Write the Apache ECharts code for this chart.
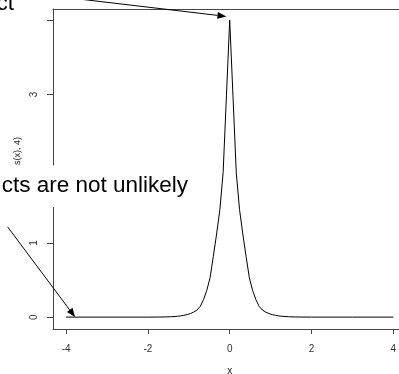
<!DOCTYPE html>
<html>
<head>
<meta charset="utf-8">
<script src="https://cdn.jsdelivr.net/npm/echarts@6/dist/echarts.min.js"></script>
<style>html,body{margin:0;padding:0;background:#fff;overflow:hidden;}#c{width:399px;height:374px;}</style>
</head>
<body>
<div id="c"></div>
<script>
var xValues = [-4, -3, -2, -1.6, -1.44, -1.28, -1.2, -1.12, -1.04, -0.96, -0.88, -0.8, -0.72, -0.64, -0.56, -0.48, -0.4, -0.32, -0.24, -0.16, -0.08,
  0, 0.08, 0.16, 0.24, 0.32, 0.4, 0.48, 0.56, 0.64, 0.72, 0.8, 0.88, 0.96, 1.04, 1.12, 1.2, 1.28, 1.44, 1.6, 2, 3, 4];
var yValues = [0, 0, 0, 0.002, 0.005, 0.011, 0.017, 0.024, 0.034, 0.048, 0.068, 0.095, 0.145, 0.235, 0.36, 0.53, 0.82, 1.12, 1.45, 1.95, 2.98,
  4.0, 2.98, 1.95, 1.45, 1.12, 0.82, 0.53, 0.36, 0.235, 0.145, 0.095, 0.068, 0.048, 0.034, 0.024, 0.017, 0.011, 0.005, 0.002, 0, 0, 0];
var xTicks = [-4, -2, 0, 2, 4];
var yTicks = [0, 1, 2, 3, 4];
var xLabel = 'x';
var yLabel = 's(x), 4)';
var noteTop = 'ct';
var noteBottom = 'cts are not unlikely';

var pts = xValues.map(function (x, i) { return [x, yValues[i]]; });
var chart = echarts.init(document.getElementById('c'), null, {renderer: 'canvas'});
var axisCol = '#333';
var lineCol = '#444';
function fmt(list) { return function (v) { return list.indexOf(v) >= 0 ? String(v) : ''; }; }
var option = {
  animation: false,
  backgroundColor: '#fff',
  grid: {left: 53, top: 9, height: 320, width: 353.4, show: false, containLabel: false, outerBoundsMode: 'none'},
  xAxis: [{
    type: 'value', min: -4.32, max: 4.32, interval: 2, position: 'bottom',
    name: xLabel, nameLocation: 'middle', nameGap: 37,
    nameTextStyle: {fontFamily: 'Liberation Sans', fontSize: 10, color: '#222'},
    axisLine: {show: true, onZero: false, lineStyle: {color: lineCol}},
    axisTick: {show: true, length: 5, lineStyle: {color: lineCol}, customValues: xTicks},
    axisLabel: {show: true, margin: 15, fontFamily: 'Liberation Sans', fontSize: 10, color: axisCol, customValues: xTicks, formatter: fmt(xTicks)},
    splitLine: {show: false}
  }, {
    type: 'value', min: -4.32, max: 4.32, position: 'top',
    axisLine: {show: true, onZero: false, lineStyle: {color: lineCol}},
    axisTick: {show: false}, axisLabel: {show: false}, splitLine: {show: false}
  }],
  yAxis: [{
    type: 'value', min: -0.16, max: 4.15, position: 'left',
    axisLine: {show: true, onZero: false, lineStyle: {color: lineCol}},
    axisTick: {show: true, length: 6, lineStyle: {color: lineCol}, customValues: yTicks},
    axisLabel: {show: true, rotate: 90, margin: 14, fontFamily: 'Liberation Sans', fontSize: 10, color: axisCol, customValues: yTicks, formatter: fmt(yTicks)},
    splitLine: {show: false}
  }, {
    type: 'value', min: -0.16, max: 4.15, position: 'right',
    axisLine: {show: true, onZero: false, lineStyle: {color: lineCol}},
    axisTick: {show: false}, axisLabel: {show: false}, splitLine: {show: false}
  }],
  series: [{
    type: 'line', data: pts, xAxisIndex: 0, yAxisIndex: 0, showSymbol: false, symbol: 'none', smooth: false,
    lineStyle: {color: '#000', width: 1}, clip: true
  }]
};
chart.setOption(option);

var arrows = [
  {from: [-5.61, 4.41], to: [-0.08, 4.05]},
  {from: [-5.43, 1.216], to: [-3.78, 0.0]}
];
function px(p) { return chart.convertToPixel({xAxisIndex: 0, yAxisIndex: 0}, p); }
var g = [];
g.push({type: 'rect', shape: {x: 0, y: 0, width: 46, height: 27}, style: {fill: '#fff'}, z: 50});
g.push({type: 'rect', shape: {x: 0, y: 165.5, width: 205, height: 41.5}, style: {fill: '#fff'}, z: 50});
g.push({type: 'text', x: 14, y: 15, z: 60, style: {text: noteTop, fill: '#000', font: '22.5px "Liberation Sans"', textAlign: 'right', textVerticalAlign: 'bottom'}});
g.push({type: 'text', x: 188, y: 197, z: 60, style: {text: noteBottom, fill: '#000', font: '22.5px "Liberation Sans"', textAlign: 'right', textVerticalAlign: 'bottom'}});
g.push({type: 'text', x: 18, y: 137, rotation: Math.PI / 2, z: 40, style: {text: yLabel, fill: '#222', font: '9px "Liberation Sans"', textAlign: 'right', textVerticalAlign: 'middle'}});
arrows.forEach(function (a) {
  var s = px(a.from), t = px(a.to);
  var dx = t[0] - s[0], dy = t[1] - s[1], L = Math.sqrt(dx * dx + dy * dy);
  var ux = dx / L, uy = dy / L, hl = 9, hw = 3.5;
  var bx = t[0] - ux * hl, by = t[1] - uy * hl;
  g.push({type: 'line', z: 60, shape: {x1: s[0], y1: s[1], x2: bx, y2: by}, style: {stroke: '#000', lineWidth: 1}});
  g.push({type: 'polygon', z: 60, shape: {points: [[t[0], t[1]], [bx - uy * hw, by + ux * hw], [bx + uy * hw, by - ux * hw]]}, style: {fill: '#000'}});
});
chart.setOption({graphic: g});
</script>
</body>
</html>
